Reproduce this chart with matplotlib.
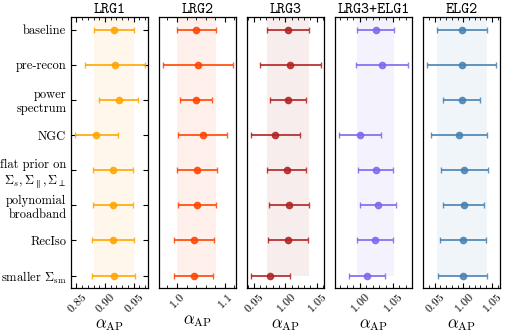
import numpy as np
import matplotlib
matplotlib.use("Agg")
import matplotlib.pyplot as plt
from matplotlib.ticker import MultipleLocator, AutoMinorLocator

plt.rcParams.update({
    'font.family': 'serif',
    'font.serif': ['cmr10'],
    'mathtext.fontset': 'cm',
    'axes.formatter.use_mathtext': True,
    'axes.unicode_minus': False,
})

# robustness tests (rows, top to bottom)
tests = ['baseline', 'pre-recon', 'power\nspectrum', 'NGC',
         'flat prior on\n$\\Sigma_s, \\Sigma_{\\parallel}, \\Sigma_{\\perp}$',
         'polynomial\nbroadband', 'RecIso', 'smaller $\\Sigma_{\\rm sm}$']

tracers = ['LRG1', 'LRG2', 'LRG3', 'LRG3+ELG1', 'ELG2']
colors = ['orange', 'orangered', 'firebrick', 'mediumslateblue', 'steelblue']
tick_step = [0.05, 0.1, 0.05, 0.05, 0.05]

# alpha_AP best fit and 1 sigma error per tracer (nan = not run)
lrg1_val = [0.915, 0.917, 0.924, 0.885, 0.914, 0.914, 0.914, 0.915]
lrg1_err = [0.035, 0.052, 0.034, 0.038, 0.035, 0.035, 0.037, 0.038]
lrg2_val = [1.040, 1.043, 1.040, 1.054, 1.041, 1.041, 1.036, 1.035]
lrg2_err = [0.041, 0.073, 0.034, 0.051, 0.042, 0.040, 0.042, 0.041]
lrg3_val = [1.004, 1.008, 1.004, 0.984, 1.002, 1.006, 1.004, 0.976]
lrg3_err = [0.033, 0.048, 0.029, 0.039, 0.031, 0.032, 0.032, 0.031]
lrg3elg1_val = [1.024, 1.034, np.nan, 1.000, 1.024, 1.028, 1.023, 1.011]
lrg3elg1_err = [0.028, 0.040, np.nan, 0.032, 0.027, 0.027, 0.027, 0.027]
elg2_val = [0.998, 0.997, 0.997, 0.992, 1.002, 1.001, 1.000, 0.999]
elg2_err = [0.043, 0.061, 0.033, 0.049, 0.041, 0.036, 0.040, 0.043]

vals = [lrg1_val, lrg2_val, lrg3_val, lrg3elg1_val, elg2_val]
errs = [lrg1_err, lrg2_err, lrg3_err, lrg3elg1_err, elg2_err]

fig, axes = plt.subplots(1, 5, figsize=(5.05, 3.34), dpi=100)
fig.subplots_adjust(left=0.141, right=0.99, top=0.949, bottom=0.138, wspace=0.145)

rows = np.arange(len(tests))
ytop, ybot = -0.36, 7.35

for i, ax in enumerate(axes):
    v = np.array(vals[i])
    e = np.array(errs[i])
    ok = ~np.isnan(v)
    c = colors[i]
    # baseline band
    ax.fill_betweenx([ytop, rows[-1]], v[0] - e[0], v[0] + e[0], color=c, alpha=0.08, lw=0)
    ax.errorbar(v[ok], rows[ok], xerr=e[ok], fmt='o', color=c, ecolor=c, alpha=0.85,
                elinewidth=1.4, capsize=2.5, capthick=1.0, ms=4.5,
                mfc=matplotlib.colors.to_rgba(c, 0.5), mec=c, mew=1.0)
    ax.set_ylim(ybot, ytop)
    ax.set_title(tracers[i], fontsize=11, family='cmtt10', pad=3)
    ax.set_xlabel(r'$\alpha_{\rm AP}$', fontsize=12, labelpad=1.5)
    ax.xaxis.set_major_locator(MultipleLocator(tick_step[i]))
    ax.xaxis.set_minor_locator(AutoMinorLocator(5))
    ax.tick_params(axis='x', which='both', direction='in', top=True, labelsize=8.5, rotation=45, pad=2)
    ax.tick_params(axis='x', which='major', length=3.5)
    ax.tick_params(axis='x', which='minor', length=2)
    for s in ax.spines.values():
        s.set_linewidth(0.9)
    if i == 0:
        ax.set_yticks(rows)
        ax.set_yticklabels(tests, fontsize=9, ha='right', multialignment='right')
        ax.tick_params(axis='y', direction='in', right=True, length=3.5)
    else:
        ax.set_yticks([])

fig.savefig('out.png', dpi=100)
